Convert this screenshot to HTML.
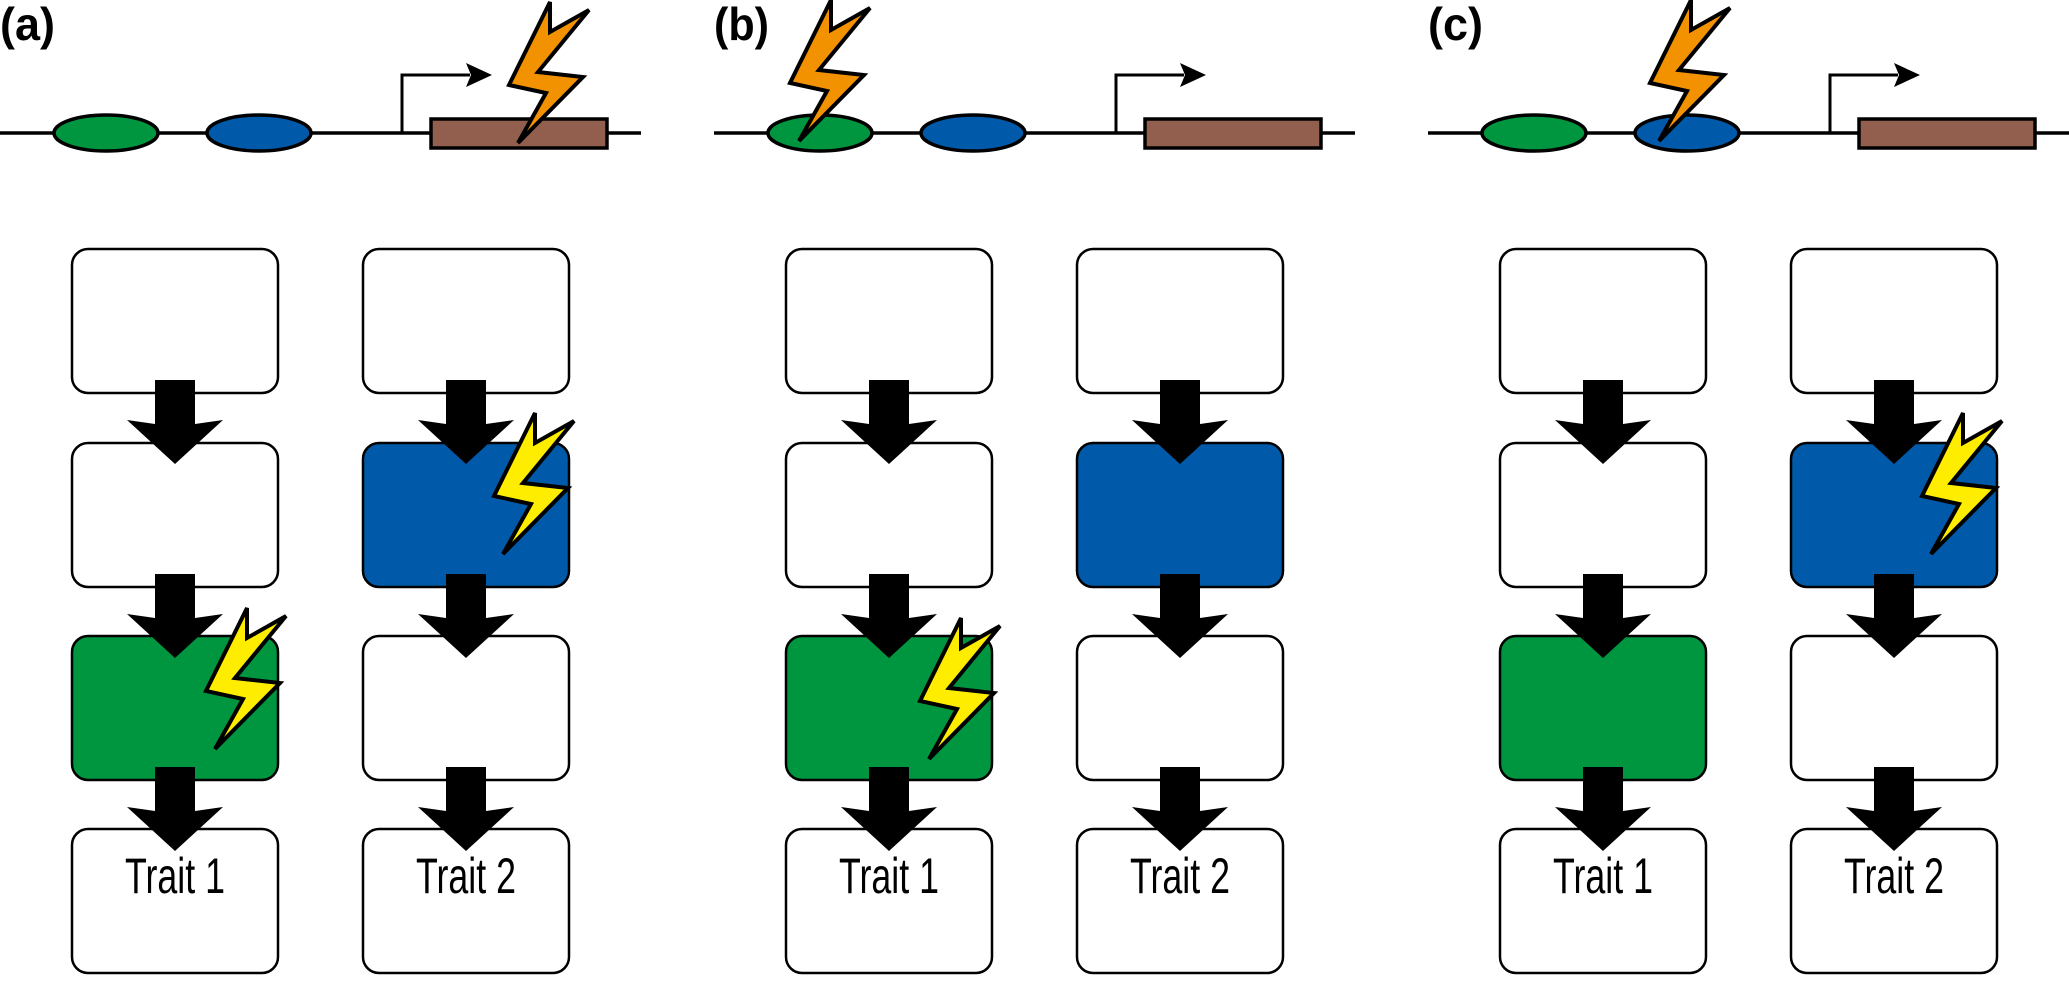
<!DOCTYPE html>
<html><head><meta charset="utf-8"><style>
html,body{margin:0;padding:0;background:#fff;}
svg{display:block;}
</style></head><body>
<svg width="2069" height="981" viewBox="0 0 2069 981" xmlns="http://www.w3.org/2000/svg">
<defs>
<path id="arr" d="M-20,0 H20 V44 L48,40 L0,84 L-48,40 L-20,44 Z" fill="#000"/>
<path id="bolt" d="M41,0 L41,30 L80,8 L29,70 L74,75 L9,141 L37,91 L0,83 Z" stroke="#000" stroke-width="4" stroke-linejoin="miter"/>
<g id="gene">
<line x1="0" y1="133" x2="641" y2="133" stroke="#000" stroke-width="3.5"/>
<ellipse cx="106" cy="133" rx="52" ry="18" fill="#009640" stroke="#000" stroke-width="3.5"/>
<ellipse cx="259" cy="133" rx="52" ry="18" fill="#005aa9" stroke="#000" stroke-width="3.5"/>
<polyline points="402,133 402,75 470,75" fill="none" stroke="#000" stroke-width="3"/>
<path d="M466,63 L492,75 L466,87 L471,75 Z" fill="#000"/>
<rect x="431" y="119" width="176" height="29" fill="#925f4f" stroke="#000" stroke-width="3.5"/>
</g>
<g id="boxes">
<rect x="72" y="249" width="206" height="144" rx="16" fill="#fff" stroke="#000" stroke-width="2.5"/>
<rect x="363" y="249" width="206" height="144" rx="16" fill="#fff" stroke="#000" stroke-width="2.5"/>
<rect x="72" y="443" width="206" height="144" rx="16" fill="#fff" stroke="#000" stroke-width="2.5"/>
<rect x="363" y="443" width="206" height="144" rx="16" fill="#005aa9" stroke="#000" stroke-width="2.5"/>
<rect x="72" y="636" width="206" height="144" rx="16" fill="#009640" stroke="#000" stroke-width="2.5"/>
<rect x="363" y="636" width="206" height="144" rx="16" fill="#fff" stroke="#000" stroke-width="2.5"/>
<rect x="72" y="829" width="206" height="144" rx="16" fill="#fff" stroke="#000" stroke-width="2.5"/>
<rect x="363" y="829" width="206" height="144" rx="16" fill="#fff" stroke="#000" stroke-width="2.5"/>
<use href="#arr" x="175" y="380"/>
<use href="#arr" x="175" y="574"/>
<use href="#arr" x="175" y="767"/>
<use href="#arr" x="466" y="380"/>
<use href="#arr" x="466" y="574"/>
<use href="#arr" x="466" y="767"/>
<text x="175" y="893" font-family="Liberation Sans, sans-serif" font-size="50" text-anchor="middle" textLength="100" lengthAdjust="spacingAndGlyphs">Trait 1</text>
<text x="466" y="893" font-family="Liberation Sans, sans-serif" font-size="50" text-anchor="middle" textLength="100" lengthAdjust="spacingAndGlyphs">Trait 2</text>
</g>
</defs>

<!-- Panel a -->
<g>
<text x="0" y="40" font-family="Liberation Sans, sans-serif" font-weight="bold" font-size="46" textLength="55" lengthAdjust="spacingAndGlyphs">(a)</text>
<use href="#gene"/>
<use href="#bolt" x="509" y="2" fill="#f39200"/>
<use href="#boxes"/>
<use href="#bolt" x="206" y="608" fill="#ffed00"/>
<use href="#bolt" x="494" y="413" fill="#ffed00"/>
</g>

<!-- Panel b -->
<g transform="translate(714,0)">
<text x="0" y="40" font-family="Liberation Sans, sans-serif" font-weight="bold" font-size="46" textLength="55" lengthAdjust="spacingAndGlyphs">(b)</text>
<use href="#gene"/>
<use href="#bolt" x="76" y="0" fill="#f39200"/>
<use href="#boxes"/>
<use href="#bolt" x="206" y="618" fill="#ffed00"/>
</g>

<!-- Panel c -->
<g transform="translate(1428,0)">
<text x="0" y="40" font-family="Liberation Sans, sans-serif" font-weight="bold" font-size="46" textLength="55" lengthAdjust="spacingAndGlyphs">(c)</text>
<use href="#gene"/>
<use href="#bolt" x="222" y="0" fill="#f39200"/>
<use href="#boxes"/>
<use href="#bolt" x="494" y="413" fill="#ffed00"/>
</g>
</svg>
</body></html>
